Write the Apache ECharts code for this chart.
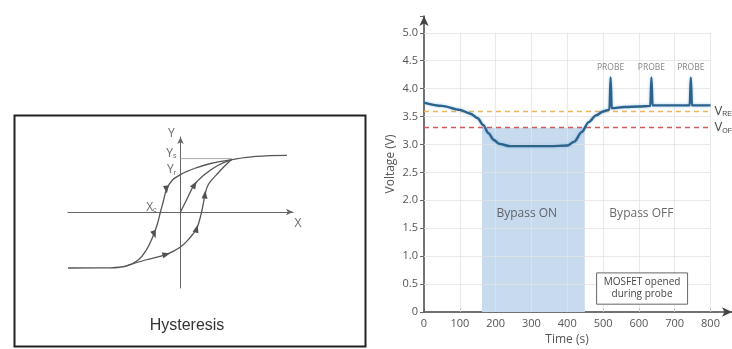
<!DOCTYPE html>
<html>
<head>
<meta charset="utf-8">
<script src="https://cdn.jsdelivr.net/npm/echarts@6/dist/echarts.min.js"></script>
<style>
  html, body { margin: 0; padding: 0; background: #fff; }
  #chart { width: 732px; height: 349px; }
</style>
</head>
<body>
<div id="chart"></div>
<script>
// ---- left panel: hysteresis sketch (x right, y up, origin at axis crossing)
const upperBranch = [[106, 56.7], [75, 55.6], [51, 52.4], [30, 48.5], [15, 44], [5, 40], [0, 37.4], [-8, 32], [-14, 22.4],
  [-17, 11], [-20, 0], [-23, -12], [-28, -25.7], [-34, -38], [-42, -48], [-54, -54], [-70, -55.8], [-112, -56]];
const lowerBranch = [[-54, -54], [-35, -48], [-14, -42.3], [0, -35], [10, -25], [16, -16.7], [19, -8], [21, 0], [23, 10],
  [24.3, 17.4], [28, 28], [36, 37.4], [44, 46], [51, 52.4]];
const initialCurve = [[0, 0], [6, 12], [14, 27.4], [26, 39], [38, 47], [51, 52.4]];
const satLevel = [[0, 53.4], [51, 53.4]];
const arrowPts = [[-14, 22.4], [-26, -22.6], [-14, -42.3], [16, -16.7], [24.3, 17.4], [14, 27.4]];
const arrowRot = [185, 200, -75, -15, -5, -30];
const sketchLabels = [
  { name: '{m|Y}', value: [-9, 78] },
  { name: '{m|Y}{s|s}', value: [-9, 58.5] },
  { name: '{m|Y}{s|r}', value: [-9, 42] },
  { name: '{m|X}{s|c}', value: [-29, 4.7] },
  { name: '{m|X}', value: [117, -12] }
];

// ---- right panel: cell voltage over time
const timeS = [0, 50, 100, 130, 150, 165, 180, 195, 210, 240, 300, 350, 400, 420, 440, 460, 480, 500, 515,
  518, 521, 524, 560, 600, 632, 635, 638, 700, 742, 745, 748, 800];
const voltV = [3.75, 3.69, 3.62, 3.55, 3.47, 3.35, 3.2, 3.08, 3.01, 2.97, 2.97, 2.97, 2.98, 3.05, 3.22, 3.4, 3.52, 3.59, 3.62,
  3.63, 4.2, 3.65, 3.67, 3.68, 3.69, 4.2, 3.7, 3.7, 3.7, 4.2, 3.7, 3.7];
const probeTimes = [521, 635, 745];
const gridX = [100, 200, 300, 400, 500, 600, 700, 800];
const gridY = [0.5, 1, 1.5, 2, 2.5, 3, 3.5, 4, 4.5, 5];
const vRec = 3.6;
const vOff = 3.3;
const bypassOn = [162, 449];
const noteBox = [[482, 0.14], [736, 0.7]];
const regionText = [
  { name: 'Bypass ON', value: [287, 1.77] },
  { name: 'Bypass OFF', value: [607, 1.77] }
];

const chart = echarts.init(document.getElementById('chart'));
const font = 'Open Sans, Noto Sans, sans-serif';
const ink = '#555';

const probePeaks = probeTimes.map(t => [t, voltV[timeS.indexOf(t)]]);

const gridLines = gridX.map(x => [{ coord: [x, 0] }, { coord: [x, 5] }])
  .concat(gridY.map(y => [{ coord: [0, y] }, { coord: [800, y] }]));

const option = {
  animation: false,
  backgroundColor: '#fff',
  graphic: [
    {
      type: 'rect', left: 12, top: 113, z: 0,
      shape: { width: 351, height: 231 },
      style: { fill: 'none', stroke: '#222', lineWidth: 2 }
    },
    {
      type: 'text', z: 5,
      style: { text: 'Hysteresis', x: 187, y: 318, fontSize: 16, fill: '#333', fontFamily: 'Liberation Sans, Arial, sans-serif', align: 'center' }
    }
  ],
  grid: [
    { left: 68, top: 137, width: 225, height: 151, outerBoundsMode: 'none' },
    { left: 424, top: 16, width: 308, height: 296, outerBoundsMode: 'none' }
  ],
  xAxis: [
    {
      gridIndex: 0, type: 'value', min: -112, max: 112,
      axisLine: { onZero: true, lineStyle: { color: '#666', width: 1 }, symbol: ['none', 'arrow'], symbolSize: [5, 7] },
      axisTick: { show: false }, axisLabel: { show: false }, splitLine: { show: false }
    },
    {
      gridIndex: 1, type: 'value', min: 0, max: 860, interval: 100,
      name: 'Time (s)', nameLocation: 'middle', nameGap: 21,
      nameTextStyle: { fontSize: 12, color: ink, fontFamily: font, padding: [0, 22, 0, 0] },
      axisLine: { lineStyle: { color: '#444', width: 1.5 }, symbol: ['none', 'arrow'], symbolSize: [7, 10] },
      axisTick: { inside: true, length: 4, lineStyle: { color: '#666' } },
      axisLabel: { fontSize: 11, color: ink, fontFamily: font, margin: 6, formatter: v => (v % 100 === 0 && v <= 800 ? String(v) : '') },
      splitLine: { show: false }
    }
  ],
  yAxis: [
    {
      gridIndex: 0, type: 'value', min: -76, max: 75,
      axisLine: { onZero: true, lineStyle: { color: '#666', width: 1 }, symbol: ['none', 'arrow'], symbolSize: [5, 7] },
      axisTick: { show: false }, axisLabel: { show: false }, splitLine: { show: false }
    },
    {
      gridIndex: 1, type: 'value', min: 0, max: 5.3, interval: 0.5,
      name: 'Voltage (V)', nameLocation: 'middle', nameGap: 27,
      nameTextStyle: { fontSize: 12, color: ink, fontFamily: font },
      axisLine: { lineStyle: { color: '#444', width: 1.5 }, symbol: ['none', 'arrow'], symbolSize: [7, 10] },
      axisTick: { length: 4, lineStyle: { color: '#666' } },
      axisLabel: { fontSize: 11, color: ink, fontFamily: font, margin: 6,
        formatter: v => (v > 5.01 ? '' : (v === 0 ? '0' : v.toFixed(1))) },
      splitLine: { show: false }
    }
  ],
  series: [
    // left sketch
    { type: 'line', xAxisIndex: 0, yAxisIndex: 0, data: upperBranch, smooth: 0.4, symbol: 'none',
      lineStyle: { color: '#555', width: 1.3 } },
    { type: 'line', xAxisIndex: 0, yAxisIndex: 0, data: lowerBranch, smooth: 0.4, symbol: 'none',
      lineStyle: { color: '#555', width: 1.3 } },
    { type: 'line', xAxisIndex: 0, yAxisIndex: 0, data: initialCurve, smooth: 0.4, symbol: 'none',
      lineStyle: { color: '#555', width: 1.3 } },
    { type: 'line', xAxisIndex: 0, yAxisIndex: 0, data: satLevel, symbol: 'none',
      lineStyle: { color: '#aaa', width: 1 } },
    { type: 'scatter', xAxisIndex: 0, yAxisIndex: 0, symbol: 'triangle', symbolSize: [6, 8],
      data: arrowPts.map((p, i) => ({ value: p, symbolRotate: arrowRot[i] })),
      itemStyle: { color: '#222' } },
    { type: 'scatter', xAxisIndex: 0, yAxisIndex: 0, symbolSize: 0, clip: false, data: sketchLabels,
      label: { show: true, position: 'inside', formatter: p => p.name,
        rich: { m: { fontSize: 12, color: '#444', fontFamily: font }, s: { fontSize: 7, color: '#444', verticalAlign: 'bottom', padding: [6, 0, 0, 0] } } } },

    // right chart: shaded bypass region and grid lines
    { type: 'line', xAxisIndex: 1, yAxisIndex: 1, data: [], z: 1,
      markArea: { silent: true, z: 1, itemStyle: { color: '#c8dbee', opacity: 1 },
        data: [[{ coord: [bypassOn[0], 0] }, { coord: [bypassOn[1], vOff] }]] },
      markLine: { silent: true, z: 2, symbol: 'none', label: { show: false },
        lineStyle: { color: '#e3e3e3', width: 1, type: 'solid', opacity: 0.8 }, data: gridLines } },
    // thresholds
    { type: 'line', xAxisIndex: 1, yAxisIndex: 1, data: [], z: 3,
      markLine: { silent: true, z: 3, symbol: 'none',
        label: { show: true, position: 'end', distance: 4, formatter: p => p.name,
          rich: { v: { fontSize: 13, color: '#444', fontFamily: font }, s: { fontSize: 7, color: '#444', verticalAlign: 'bottom', padding: [7, 0, 0, 0] } } },
        data: [
          [{ coord: [0, vRec], name: '{v|V}{s|REC}', lineStyle: { color: '#f0b45a', type: [5, 4], width: 1.3 } }, { coord: [800, vRec] }],
          [{ coord: [0, vOff], name: '{v|V}{s|OFF}', lineStyle: { color: '#cf5a5a', type: [5, 4], width: 1.3 } }, { coord: [800, vOff] }]
        ] } },
    // annotation box
    { type: 'line', xAxisIndex: 1, yAxisIndex: 1, data: [], z: 6,
      markArea: { silent: true, z: 6, itemStyle: { color: '#fff', opacity: 1, borderColor: '#666', borderWidth: 1 },
        label: { show: true, position: 'inside', fontSize: 10, lineHeight: 12, color: '#444', fontFamily: font },
        data: [[{ coord: noteBox[0], name: 'MOSFET opened\nduring probe' }, { coord: noteBox[1] }]] } },
    { type: 'line', xAxisIndex: 1, yAxisIndex: 1, data: timeS.map((t, i) => [t, voltV[i]]), z: 4,
      smooth: 0.3, smoothMonotone: 'x', symbol: 'none',
      lineStyle: { color: '#2d628b', width: 2.4, shadowColor: 'rgba(80,160,225,0.55)', shadowBlur: 3 } },
    { type: 'scatter', xAxisIndex: 1, yAxisIndex: 1, symbolSize: 0, z: 5, data: probePeaks,
      label: { show: true, position: 'top', distance: 5, formatter: 'PROBE', fontSize: 8.5, color: '#666', fontFamily: font } },
    { type: 'scatter', xAxisIndex: 1, yAxisIndex: 1, symbolSize: 0, z: 5, data: regionText,
      label: { show: true, position: 'inside', formatter: p => p.name, fontSize: 12, color: '#444', fontFamily: font } }
  ]
};

chart.setOption(option);
</script>
</body>
</html>
